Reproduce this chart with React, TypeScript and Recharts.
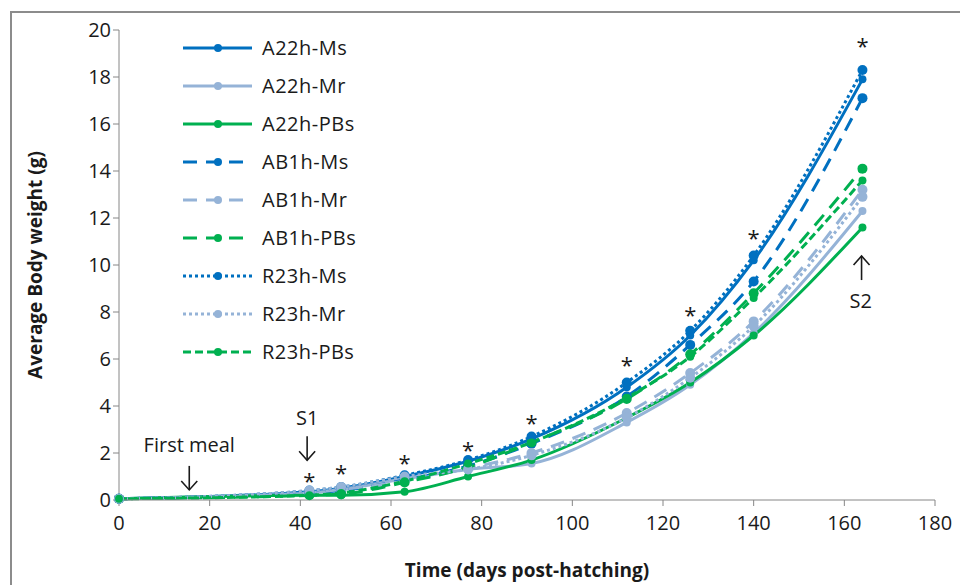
import React from 'react';
import { LineChart, Line, XAxis, YAxis, ReferenceDot, Label } from 'recharts';

const days = [0, 42, 49, 63, 77, 91, 112, 126, 140, 164];

const a22hMs = [0.05, 0.35, 0.5, 1.0, 1.65, 2.6, 4.8, 7.0, 10.2, 17.9];
const a22hMr = [0.05, 0.3, 0.45, 0.9, 1.3, 1.55, 3.3, 4.9, 7.1, 12.3];
const a22hPBs = [0.05, 0.2, 0.2, 0.35, 1.0, 1.7, 3.5, 5.0, 7.0, 11.6];
const ab1hMs = [0.05, 0.3, 0.4, 0.85, 1.45, 2.4, 4.4, 6.6, 9.3, 17.1];
const ab1hMr = [0.05, 0.3, 0.45, 0.8, 1.35, 2.0, 3.7, 5.4, 7.6, 13.2];
const ab1hPBs = [0.05, 0.2, 0.25, 0.75, 1.4, 2.45, 4.3, 6.2, 8.8, 14.1];
const r23hMs = [0.05, 0.4, 0.55, 1.05, 1.7, 2.7, 5.0, 7.2, 10.4, 18.3];
const r23hMr = [0.05, 0.4, 0.55, 1.0, 1.3, 1.9, 3.5, 5.2, 7.4, 12.9];
const r23hPBs = [0.05, 0.2, 0.3, 0.8, 1.55, 2.45, 4.35, 6.1, 8.6, 13.6];

const xTicks = [0, 20, 40, 60, 80, 100, 120, 140, 160, 180];
const yTicks = [0, 2, 4, 6, 8, 10, 12, 14, 16, 18, 20];

const asteriskDays = [42, 49, 63, 77, 91, 112, 126, 140, 164];
const asteriskY = [1.0, 1.3, 1.75, 2.3, 3.45, 5.9, 8.05, 11.3, 19.5];

const labels = [
  { x: 15.5, y: 2.35, text: 'First meal' },
  { x: 41.5, y: 3.5, text: 'S1' },
  { x: 163.6, y: 8.5, text: 'S2' },
];

const arrows = [
  { x: 15.5, y: 0.94, dir: 'down' },
  { x: 41.5, y: 2.2, dir: 'down' },
  { x: 163.8, y: 9.87, dir: 'up' },
];

const DARK = '#0070C0';
const LIGHT = '#95B3D7';
const GREEN = '#00B050';

const series = [
  { name: 'A22h-Ms', values: a22hMs, color: DARK, dash: undefined, r: 4 },
  { name: 'A22h-Mr', values: a22hMr, color: LIGHT, dash: undefined, r: 4 },
  { name: 'A22h-PBs', values: a22hPBs, color: GREEN, dash: undefined, r: 4 },
  { name: 'AB1h-Ms', values: ab1hMs, color: DARK, dash: '14 9', r: 5 },
  { name: 'AB1h-Mr', values: ab1hMr, color: LIGHT, dash: '14 9', r: 5 },
  { name: 'AB1h-PBs', values: ab1hPBs, color: GREEN, dash: '14 9', r: 5 },
  { name: 'R23h-Ms', values: r23hMs, color: DARK, dash: '3 3', r: 5 },
  { name: 'R23h-Mr', values: r23hMr, color: LIGHT, dash: '3 3', r: 5 },
  { name: 'R23h-PBs', values: r23hPBs, color: GREEN, dash: '8 4', r: 4 },
];

const data = days.map((d, i) => {
  const row: any = { day: d };
  series.forEach((s) => {
    row[s.name] = s.values[i];
  });
  return row;
});

const FONT = '"Open Sans", "DejaVu Sans", sans-serif';

const LegendBox = () => (
  <svg width={220} height={345} style={{ position: 'absolute', left: 180, top: 33, display: 'block' }}>
    {series.map((s, i) => {
      const y = 15 + i * 38;
      return (
        <g key={s.name}>
          <line x1={3} x2={72} y1={y} y2={y} stroke={s.color} strokeWidth={3} strokeDasharray={s.dash} />
          <circle cx={38} cy={y} r={4} fill={s.color} />
          <text x={82} y={y + 7} fontSize={20} fill="#1a1a1a" fontFamily={FONT} letterSpacing={0.5}>
            {s.name}
          </text>
        </g>
      );
    })}
  </svg>
);

const makeDot = (color: string, r: number) => (props: any) => {
  const { cx, cy, index } = props;
  if (cx == null || cy == null) return <g key={index} />;
  return <circle key={index} cx={cx} cy={cy} r={r} fill={color} stroke="none" />;
};

const arrowShape = (dir: string) => (p: any) => {
  const cx = p.cx;
  const cy = p.cy;
  const s = dir === 'down' ? 1 : -1;
  const tipY = cy + s * 12;
  return (
    <g stroke="#1a1a1a" strokeWidth={1.6} fill="none">
      <line x1={cx} x2={cx} y1={cy - s * 12} y2={tipY} />
      <polyline points={`${cx - 8},${tipY - s * 9} ${cx},${tipY} ${cx + 8},${tipY - s * 9}`} />
    </g>
  );
};

export default function App() {
  return (
    <div style={{ position: 'absolute', left: 0, top: 0, width: 960, height: 585, background: '#fff', overflow: 'hidden' }}>
      <div
        style={{
          position: 'absolute',
          left: 10,
          top: 11,
          width: 960,
          height: 600,
          border: '2px solid #8c8c8c',
          boxSizing: 'border-box',
        }}
      />
      <LineChart
        width={960}
        height={585}
        data={data}
        margin={{ top: 30, right: 25, bottom: 55, left: 59 }}
        style={{ position: 'absolute', left: 0, top: 0 }}
      >
        <XAxis
          type="number"
          dataKey="day"
          domain={[0, 180]}
          ticks={xTicks}
          interval={0}
          height={30}
          stroke="#868686"
          tickSize={6}
          tick={{ fontSize: 20, fill: '#1a1a1a', fontFamily: FONT, dy: 8 }}
          tickLine={{ stroke: '#868686' }}
        >
          <Label
            value="Time (days post-hatching)"
            position="bottom"
            offset={34}
            style={{ fontSize: 19, fontWeight: 700, fill: '#1a1a1a', fontFamily: FONT }}
          />
        </XAxis>
        <YAxis
          type="number"
          domain={[0, 20]}
          ticks={yTicks}
          interval={0}
          width={60}
          stroke="#868686"
          tickSize={6}
          tick={{ fontSize: 20, fill: '#1a1a1a', fontFamily: FONT }}
          tickLine={{ stroke: '#868686' }}
        >
          <Label
            value="Average Body weight (g)"
            angle={-90}
            position="insideLeft"
            offset={-24}
            style={{ fontSize: 19, fontWeight: 700, fill: '#1a1a1a', fontFamily: FONT, textAnchor: 'middle' }}
          />
        </YAxis>
        {series.map((s) => (
          <Line
            key={s.name}
            type="monotone"
            dataKey={s.name}
            name={s.name}
            stroke={s.color}
            strokeWidth={3}
            strokeDasharray={s.dash}
            dot={makeDot(s.color, s.r)}
            activeDot={false}
            isAnimationActive={false}
          />
        ))}
        {asteriskDays.map((d, i) => (
          <ReferenceDot
            key={'ast' + i}
            x={d}
            y={asteriskY[i]}
            r={0}
            ifOverflow="visible"
            shape={(p: any) => (
              <text x={p.cx} y={p.cy + 12} textAnchor="middle" fontSize={22} fontFamily={FONT} fill="#1a1a1a">
                *
              </text>
            )}
          />
        ))}
        {labels.map((a, i) => (
          <ReferenceDot
            key={'lab' + i}
            x={a.x}
            y={a.y}
            r={0}
            ifOverflow="visible"
            shape={(p: any) => (
              <text
                x={p.cx}
                y={p.cy}
                textAnchor="middle"
                dominantBaseline="central"
                fontSize={20}
                fontFamily={FONT}
                fill="#1a1a1a"
              >
                {a.text}
              </text>
            )}
          />
        ))}
        {arrows.map((a, i) => (
          <ReferenceDot key={'arr' + i} x={a.x} y={a.y} r={0} ifOverflow="visible" shape={arrowShape(a.dir)} />
        ))}
      </LineChart>
      <LegendBox />
    </div>
  );
}
